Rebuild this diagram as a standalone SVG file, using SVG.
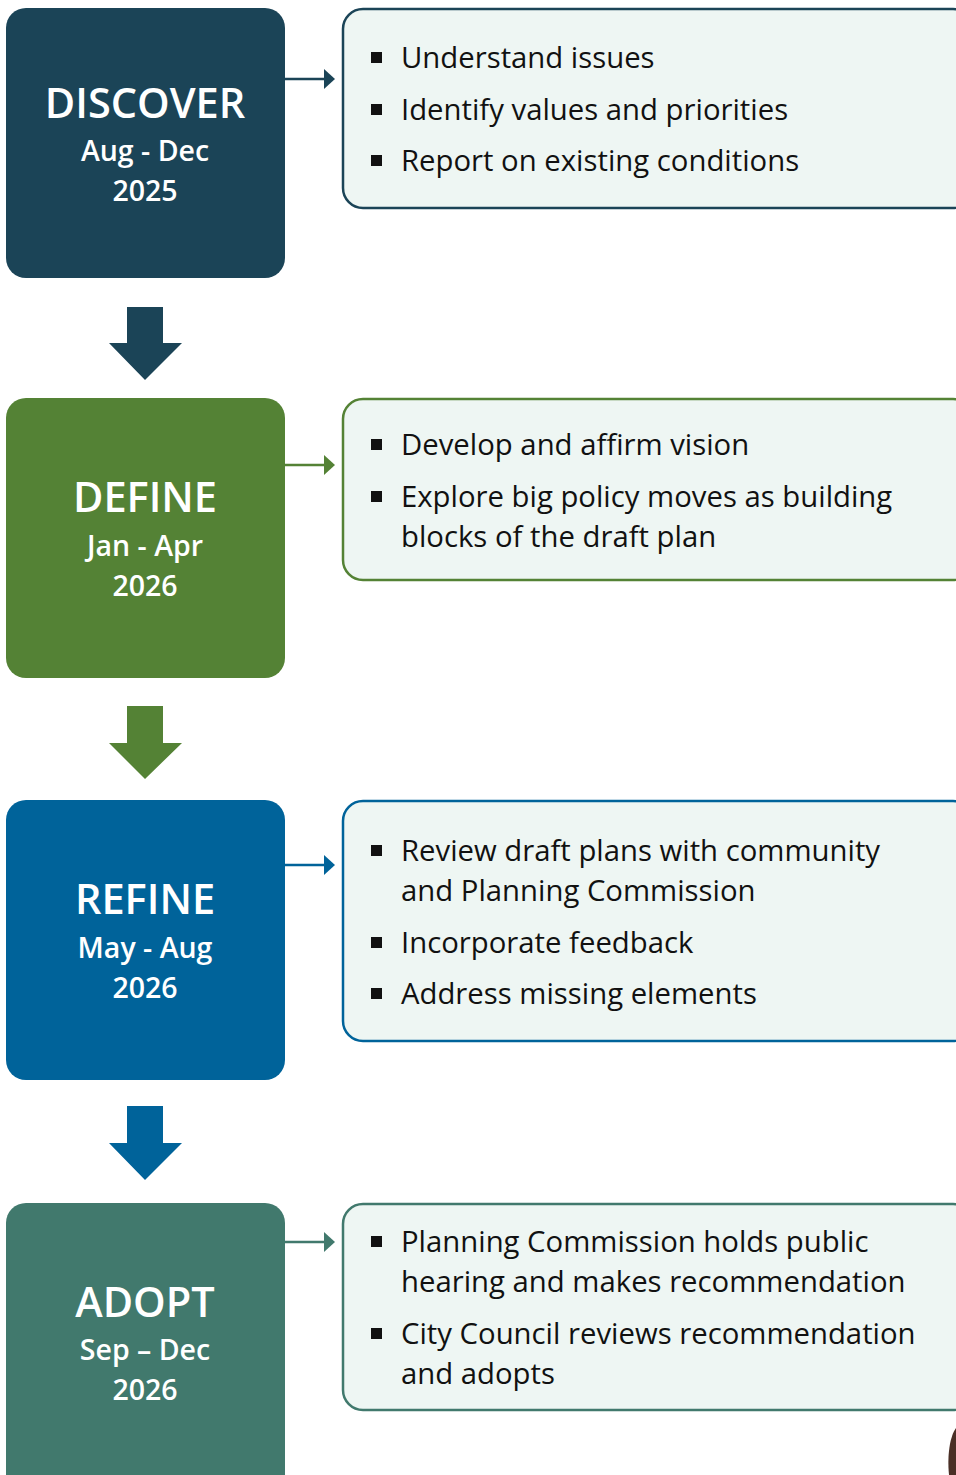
<svg xmlns="http://www.w3.org/2000/svg" width="956" height="1475" viewBox="0 0 956 1475">
<style>
.title{font-family:"Open Sans","Noto Sans",sans-serif;font-size:41.5px;font-weight:600;fill:#ffffff;text-anchor:middle}
.sub{font-family:"Open Sans","Noto Sans",sans-serif;font-size:28.5px;font-weight:600;fill:#ffffff;text-anchor:middle}
.item{font-family:"Open Sans","Noto Sans",sans-serif;font-size:29.3px;fill:#111111}
.panel{fill:#eef6f3;stroke-width:2.5}
</style>
<rect width="956" height="1475" fill="#ffffff"/>
<g id="discover">
<rect x="6" y="8" width="279" height="270" rx="20" fill="#1b4457"/>
<text class="title" x="145" y="118">DISCOVER</text>
<text class="sub" x="145" y="161">Aug - Dec</text>
<text class="sub" x="145" y="201">2025</text>
</g>
<g id="discover-tasks">
<rect class="panel" x="343" y="9" width="630" height="199" rx="20" stroke="#1b4457"/>
<rect x="371" y="52" width="11" height="11" fill="#111"/>
<text class="item" x="401" y="68">Understand issues</text>
<rect x="371" y="104" width="11" height="11" fill="#111"/>
<text class="item" x="401" y="120">Identify values and priorities</text>
<rect x="371" y="155" width="11" height="11" fill="#111"/>
<text class="item" x="401" y="171">Report on existing conditions</text>
</g>
<g id="define">
<rect x="6" y="398" width="279" height="280" rx="20" fill="#548235"/>
<text class="title" x="145" y="512">DEFINE</text>
<text class="sub" x="145" y="556">Jan - Apr</text>
<text class="sub" x="145" y="596">2026</text>
</g>
<g id="define-tasks">
<rect class="panel" x="343" y="399" width="630" height="181" rx="20" stroke="#548235"/>
<rect x="371" y="439" width="11" height="11" fill="#111"/>
<text class="item" x="401" y="455">Develop and affirm vision</text>
<rect x="371" y="491" width="11" height="11" fill="#111"/>
<text class="item" x="401" y="507">Explore big policy moves as building</text>
<text class="item" x="401" y="547">blocks of the draft plan</text>
</g>
<g id="refine">
<rect x="6" y="800" width="279" height="280" rx="20" fill="#00639a"/>
<text class="title" x="145" y="914">REFINE</text>
<text class="sub" x="145" y="958">May - Aug</text>
<text class="sub" x="145" y="998">2026</text>
</g>
<g id="refine-tasks">
<rect class="panel" x="343" y="801" width="630" height="240" rx="20" stroke="#00639a"/>
<rect x="371" y="845" width="11" height="11" fill="#111"/>
<text class="item" x="401" y="861">Review draft plans with community</text>
<text class="item" x="401" y="901">and Planning Commission</text>
<rect x="371" y="937" width="11" height="11" fill="#111"/>
<text class="item" x="401" y="953">Incorporate feedback</text>
<rect x="371" y="988" width="11" height="11" fill="#111"/>
<text class="item" x="401" y="1004">Address missing elements</text>
</g>
<g id="adopt">
<rect x="6" y="1203" width="279" height="300" rx="20" fill="#41796d"/>
<text class="title" x="145" y="1317">ADOPT</text>
<text class="sub" x="145" y="1360">Sep – Dec</text>
<text class="sub" x="145" y="1400">2026</text>
</g>
<g id="adopt-tasks">
<rect class="panel" x="343" y="1204" width="630" height="206" rx="20" stroke="#41796d"/>
<rect x="371" y="1236" width="11" height="11" fill="#111"/>
<text class="item" x="401" y="1252">Planning Commission holds public</text>
<text class="item" x="401" y="1292">hearing and makes recommendation</text>
<rect x="371" y="1328" width="11" height="11" fill="#111"/>
<text class="item" x="401" y="1344">City Council reviews recommendation</text>
<text class="item" x="401" y="1384">and adopts</text>
</g>
<g id="connectors">
<line x1="285" y1="79" x2="326" y2="79" stroke="#1b4457" stroke-width="2.5"/>
<polygon points="324,69 335,79 324,89" fill="#1b4457"/>
<line x1="285" y1="465" x2="326" y2="465" stroke="#548235" stroke-width="2.5"/>
<polygon points="324,455 335,465 324,475" fill="#548235"/>
<line x1="285" y1="865" x2="326" y2="865" stroke="#00639a" stroke-width="2.5"/>
<polygon points="324,855 335,865 324,875" fill="#00639a"/>
<line x1="285" y1="1242" x2="326" y2="1242" stroke="#41796d" stroke-width="2.5"/>
<polygon points="324,1232 335,1242 324,1252" fill="#41796d"/>
<polygon points="127,307 163,307 163,343 182,343 145,380 109,343 127,343" fill="#1b4457"/>
<polygon points="127,706 163,706 163,743 182,743 145,779 109,743 127,743" fill="#548235"/>
<polygon points="127,1106 163,1106 163,1143 182,1143 145,1180 109,1143 127,1143" fill="#00639a"/>
</g>
<path d="M956,1428 C950,1436 947,1455 949,1475 L956,1475 Z" fill="#4a2f26"/>
</svg>
